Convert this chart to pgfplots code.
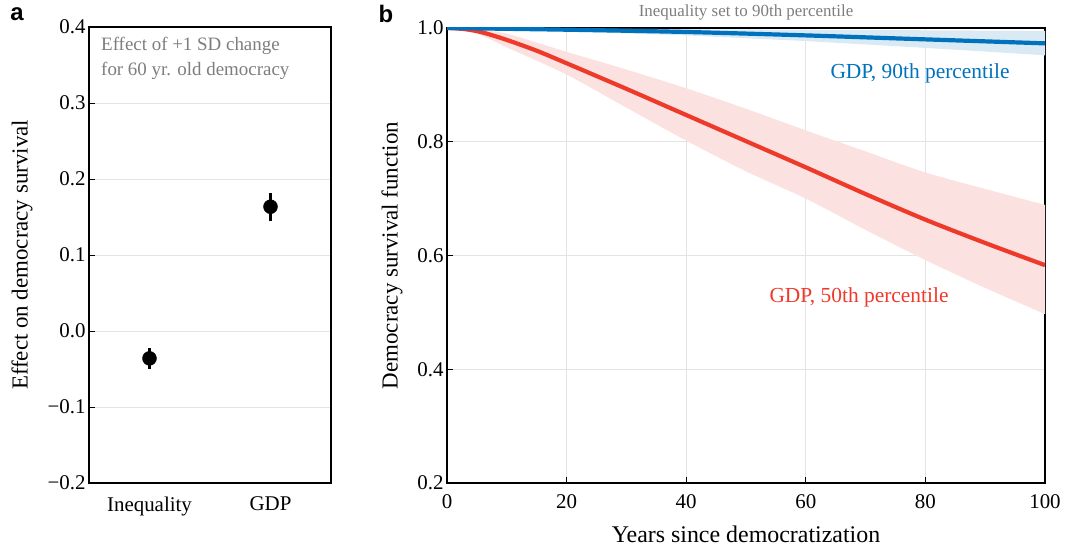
\documentclass[border=0pt]{standalone}
\usepackage{pgfplots}
\pgfplotsset{compat=1.18}
\usepgfplotslibrary{fillbetween}
\usepackage{fontspec}
\setmainfont{Liberation Serif}
\setsansfont{Liberation Sans}
\definecolor{myblue}{RGB}{0,114,189}
\definecolor{myred}{RGB}{238,58,43}
\definecolor{bandred}{RGB}{252,225,225}
\definecolor{bandblue}{RGB}{218,234,245}
\definecolor{gridgray}{RGB}{228,228,228}
\definecolor{txtgray}{RGB}{125,125,125}
\newcommand{\fs}[1]{\fontsize{#1}{#1}\selectfont}
\begin{document}
\begin{tikzpicture}
\node[font=\sffamily\bfseries\fs{24}] at (17bp,536bp) {a};
\node[font=\sffamily\bfseries\fs{24}] at (386bp,536bp) {b};

\begin{axis}[at={(89bp,67bp)}, anchor=south west, scale only axis,
  width=242bp, height=456bp,
  xmin=-0.5, xmax=1.5, ymin=-0.2, ymax=0.4,
  xtick={0,1}, xticklabels={Inequality,GDP},
  ytick={-0.2,-0.1,0,0.1,0.2,0.3,0.4},
  yticklabels={−0.2,−0.1,0.0,0.1,0.2,0.3,0.4},
  ymajorgrids, grid style={gridgray, line width=0.8bp},
  tick align=inside, major tick length=6bp, ytick pos=left,
  xtick style={draw=none},
  ytick style={black, line width=0.8bp},
  ticklabel style={font=\fs{21}},
  xticklabel style={yshift=-10bp},
  ylabel={Effect on democracy survival},
  label style={font=\fs{23}},
  ylabel style={yshift=8bp},
  axis line style={line width=1.1bp},
  clip=false]
\addplot[only marks, mark=*, mark size=7bp, black,
  error bars/.cd, y dir=both, y explicit,
  error bar style={line width=2.5bp}, error mark=none]
  coordinates {(0,-0.036) +- (0,0.014) (1,0.1635) +- (0,0.0185)};
\node[anchor=north west, align=left, text=txtgray, font=\fs{19}, inner sep=0pt,
  xshift=12bp, yshift=-10bp]
  at (axis cs:-0.5,0.4)
  {Effect of +1 SD change\\[6bp]for 60 yr. old democracy};
\end{axis}

\begin{axis}[at={(447bp,67bp)}, anchor=south west, scale only axis,
  width=598bp, height=455bp,
  xmin=0, xmax=100, ymin=0.2, ymax=1.0,
  xtick={0,20,40,60,80,100},
  ytick={0.2,0.4,0.6,0.8,1.0},
  yticklabels={0.2,0.4,0.6,0.8,1.0},
  xticklabels={0,20,40,60,80,100},
  grid=major, grid style={gridgray, line width=0.8bp},
  tick align=inside, major tick length=6bp, ytick pos=left, xtick pos=bottom,
  tick style={black, line width=0.8bp},
  ticklabel style={font=\fs{21}},
  xticklabel style={yshift=-8bp},
  title={Inequality set to 90th percentile},
  title style={font=\fs{17}, text=txtgray, yshift=-2bp},
  xlabel={Years since democratization},
  xlabel style={font=\fs{24}, yshift=-10bp},
  ylabel={Democracy survival function},
  ylabel style={font=\fs{23}, yshift=8bp},
  axis line style={line width=1.1bp}]
% red band
\addplot[name path=ru, draw=none, smooth] coordinates {
(0,1.0) (5,0.997) (10,0.990) (20,0.958) (30,0.927) (40,0.894) (50,0.858)
(60,0.820) (70,0.783) (80,0.746) (90,0.717) (100,0.689)};
\addplot[name path=rl, draw=none, smooth] coordinates {
(0,1.0) (5,0.990) (10,0.966) (20,0.918) (30,0.860) (40,0.802) (50,0.748)
(60,0.700) (70,0.645) (80,0.592) (90,0.543) (100,0.497)};
\addplot[fill=bandred, draw=none] fill between[of=ru and rl];
% blue band
\addplot[name path=bu, draw=none] coordinates {
(0,1.0) (20,0.999) (40,0.998) (60,0.997) (80,0.996) (100,0.995)};
\addplot[name path=bl, draw=none] coordinates {
(0,1.0) (20,0.994) (40,0.987) (60,0.977) (80,0.965) (100,0.952)};
\addplot[fill=bandblue, draw=none] fill between[of=bu and bl];
% lines
\addplot[myred, line width=4.2bp, smooth] coordinates {
(0,1.0) (3,0.998) (6,0.992) (10,0.979) (15,0.960) (20,0.938) (30,0.893) (40,0.847)
(50,0.801) (60,0.755) (70,0.708) (80,0.663) (90,0.622) (100,0.583)};
\addplot[myblue, line width=4.2bp, smooth] coordinates {
(0,1.0) (20,0.997) (40,0.993) (60,0.987) (80,0.980) (100,0.973)};
\node[text=myblue, font=\fs{21.5}] at (axis cs:79.1,0.921) {GDP, 90th percentile};
\node[text=myred, font=\fs{21.5}] at (axis cs:68.9,0.526) {GDP, 50th percentile};
\end{axis}
\pgfresetboundingbox
\useasboundingbox (0bp,0bp) rectangle (1065bp,550bp);
\end{tikzpicture}
\end{document}
